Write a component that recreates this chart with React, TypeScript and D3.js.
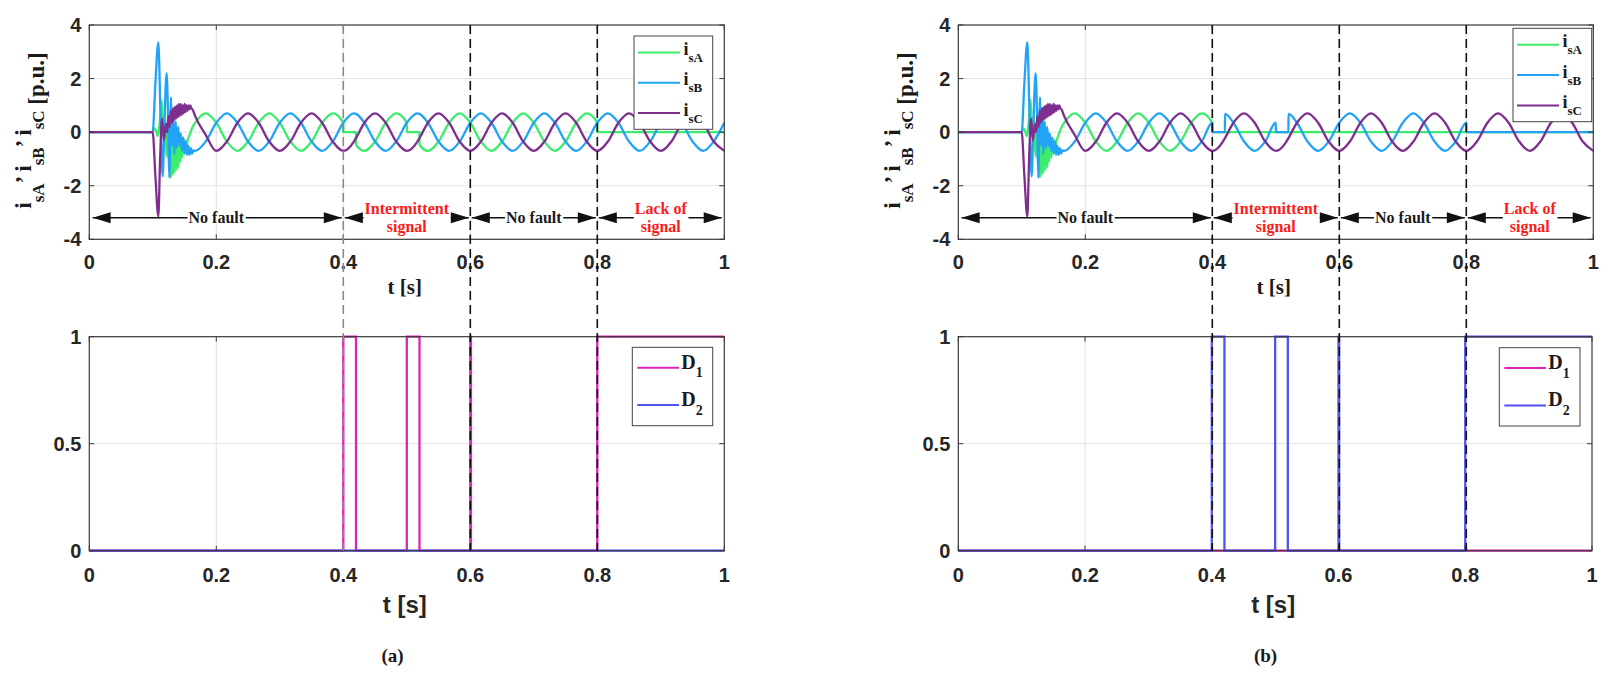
import React, { useEffect, useRef } from "react";
import * as d3 from "d3";

type Pt = [number, number];

// ---- values ----
const xTicks = [0, 0.2, 0.4, 0.6, 0.8, 1];
const yTicksCurrent = [-4, -2, 0, 2, 4];
const yTicksFlag = [0, 0.5, 1];
const stateBoundaries = [0.4, 0.6, 0.8];

// steady state samples (s) and phase currents (p.u.)
const tSteady = [
  0.1667, 0.1833, 0.2, 0.2167, 0.2333, 0.25, 0.2667, 0.2833, 0.3, 0.3167, 0.3333, 0.35, 0.3667, 0.3833, 0.4, 0.4167,
  0.42, 0.4333, 0.45, 0.4667, 0.4833, 0.5, 0.5167, 0.52, 0.5333, 0.55, 0.5667, 0.5833, 0.6, 0.6167, 0.6333, 0.65,
  0.6667, 0.6833, 0.7, 0.7167, 0.7333, 0.75, 0.7667, 0.7833, 0.8, 0.8167, 0.8333, 0.85, 0.8667, 0.8833, 0.9, 0.9167,
  0.9333, 0.95, 0.9667, 0.9833, 1.0,
];
const isASteady = [
  0.35, 0.7, 0.35, -0.35, -0.7, -0.35, 0.35, 0.7, 0.35, -0.35, -0.7, -0.35, 0.35, 0.7, 0.35, -0.35,
  -0.47, -0.7, -0.35, 0.35, 0.7, 0.35, -0.35, -0.47, -0.7, -0.35, 0.35, 0.7, 0.35, -0.35, -0.7, -0.35,
  0.35, 0.7, 0.35, -0.35, -0.7, -0.35, 0.35, 0.7, 0.35, -0.35, -0.7, -0.35, 0.35, 0.7, 0.35, -0.35,
  -0.7, -0.35, 0.35, 0.7, 0.35,
];
const isBSteady = [
  -0.7, -0.35, 0.35, 0.7, 0.35, -0.35, -0.7, -0.35, 0.35, 0.7, 0.35, -0.35, -0.7, -0.35, 0.35, 0.7,
  0.68, 0.35, -0.35, -0.7, -0.35, 0.35, 0.7, 0.68, 0.35, -0.35, -0.7, -0.35, 0.35, 0.7, 0.35, -0.35,
  -0.7, -0.35, 0.35, 0.7, 0.35, -0.35, -0.7, -0.35, 0.35, 0.7, 0.35, -0.35, -0.7, -0.35, 0.35, 0.7,
  0.35, -0.35, -0.7, -0.35, 0.35,
];
const isCSteady = [
  0.6, -0.1, -0.7, -0.35, 0.35, 0.7, 0.35, -0.35, -0.7, -0.35, 0.35, 0.7, 0.35, -0.35, -0.7, -0.35,
  -0.22, 0.35, 0.7, 0.35, -0.35, -0.7, -0.35, -0.22, 0.35, 0.7, 0.35, -0.35, -0.7, -0.35, 0.35, 0.7,
  0.35, -0.35, -0.7, -0.35, 0.35, 0.7, 0.35, -0.35, -0.7, -0.35, 0.35, 0.7, 0.35, -0.35, -0.7, -0.35,
  0.35, 0.7, 0.35, -0.35, -0.7,
];

// start-up transient [t, value]
const isATransient: Pt[] = [
  [0, 0], [0.0998, 0], [0.102, 0.15], [0.105, 0.05], [0.108, -0.15], [0.111, 0.4], [0.114, 1.2], [0.1165, -0.2],
  [0.119, 0.6], [0.1215, -0.9], [0.1235, 0.4], [0.1255, -1.3], [0.127, 0.3], [0.1285, -1.7], [0.13, 0.2],
  [0.1315, -1.6], [0.133, 0.1], [0.1345, -1.5], [0.136, 0.0], [0.1375, -1.4], [0.139, -0.1], [0.1405, -1.3],
  [0.142, -0.1], [0.1435, -1.1], [0.145, -0.2], [0.1465, -0.95], [0.148, -0.25], [0.1495, -0.8], [0.151, -0.3],
  [0.1525, -0.6], [0.155, -0.3], [0.158, -0.1], [0.161, 0.1], [0.164, 0.25],
];
const isBTransient: Pt[] = [
  [0, 0], [0.0998, 0], [0.104, 1.8], [0.1087, 3.35], [0.112, 0.8], [0.1155, -1.65], [0.1185, 0.5], [0.1218, 2.2],
  [0.1245, 0.0], [0.126, -1.7], [0.1287, 1.3], [0.1305, -0.5], [0.132, 0.7], [0.134, -0.8], [0.136, 0.4],
  [0.138, -0.6], [0.14, 0.2], [0.142, -0.5], [0.144, -0.05], [0.146, -0.7], [0.148, -0.2], [0.15, -0.8],
  [0.152, -0.35], [0.154, -0.85], [0.156, -0.5], [0.158, -0.85], [0.16, -0.6], [0.162, -0.8], [0.164, -0.68],
];
const isCTransient: Pt[] = [
  [0, 0], [0.0998, 0], [0.104, -1.6], [0.1087, -3.15], [0.1115, -1.0], [0.1145, 0.5], [0.1175, -0.3], [0.1205, 0.3],
  [0.1225, 0.0], [0.1245, 0.6], [0.1265, 0.2], [0.1285, 0.8], [0.1305, 0.35], [0.132, 0.9], [0.1335, 0.45],
  [0.135, 0.95], [0.1365, 0.5], [0.138, 1.0], [0.1395, 0.55], [0.141, 1.05], [0.1425, 0.6], [0.144, 1.05],
  [0.1455, 0.65], [0.147, 1.0], [0.1485, 0.7], [0.15, 1.05], [0.1515, 0.75], [0.153, 1.0], [0.1545, 0.8],
  [0.156, 1.0], [0.1575, 0.85], [0.159, 1.0], [0.1605, 0.9], [0.1625, 0.85],
];

// fault flags (step after)
const tFlag = [0, 0.4, 0.42, 0.5, 0.52, 0.6, 0.601, 0.8, 1];
const flagFaulty = [0, 1, 0, 1, 0, 1, 0, 1, 1];
const flagHealthy = [0, 0, 0, 0, 0, 0, 0, 0, 0];

// intervals where a phase current is lost
const lossA_a = [[0.4, 0.42], [0.5, 0.52], [0.8, 1]];
const lossB_b = [[0.4, 0.42], [0.5, 0.52], [0.8, 1]];
const lossA_b = [[0.4, 1]];

const stateLabels = [
  { from: 0, to: 0.4, text: ["No fault"], red: false },
  { from: 0.4, to: 0.6, text: ["Intermittent", "signal"], red: true },
  { from: 0.6, to: 0.8, text: ["No fault"], red: false },
  { from: 0.8, to: 1, text: ["Lack of", "signal"], red: true },
];

const colA = "#3cec6c";
const colB = "#22a3f5";
const colC = "#7e2f8e";
const colD1 = "#dc24b8";
const colD2 = "#5252ee";

const SANS = "'Liberation Sans', Arial, sans-serif";
const SERIF = "'Liberation Serif', 'Times New Roman', serif";
const AX = "#3a3a3a";

const panels = [
  {
    name: "(a)",
    top: { x: [89.3, 724.3], y: [239.3, 25] },
    bottom: { x: [89.3, 724.3], y: [550.7, 336.7] },
    lossA: lossA_a, lossB: [] as number[][],
    d1: flagFaulty, d2: flagHealthy,
    dash: ["#8a8a8a", "#111", "#111"],
    yLabelX: 44,
    legTop: [634, 36, 78.7, 93.3],
    legBottom: [632.3, 347.3, 80.4, 78.4],
    caption: [392.5, 655],
  },
  {
    name: "(b)",
    top: { x: [958.3, 1593.3], y: [239.3, 25] },
    bottom: { x: [958.3, 1592], y: [550.7, 336.7] },
    lossA: lossA_b, lossB: lossB_b,
    d1: flagHealthy, d2: flagFaulty,
    dash: ["#111", "#111", "#111"],
    yLabelX: 913,
    legTop: [1513, 28.3, 78.7, 93.4],
    legBottom: [1499.3, 347.7, 80.7, 78.3],
    caption: [1265.6, 655],
  },
];

function withLoss(series: Pt[], windows: number[][]): Pt[] {
  const out: Pt[] = [];
  const eps = 1e-9;
  for (const [t, v] of series) {
    const w = windows.find(([s, e]) => t >= s - eps && t <= e + eps);
    if (!w) {
      out.push([t, v]);
      continue;
    }
    const [s, e] = w;
    if (Math.abs(t - s) < eps) {
      out.push([t, v]);
      out.push([t + 1e-4, 0]);
    } else if (Math.abs(t - e) < eps && e < 1) {
      out.push([t - 1e-4, 0]);
      out.push([t, v]);
    } else out.push([t, 0]);
  }
  return out;
}

function frame(svg: any, x: any, y: any, yTicks: number[], fontSize: number, xLabelDy: number) {
  const [x0, x1] = x.range();
  const [y0, y1] = y.range();
  const g = svg.append("g");
  g.append("rect").attr("x", x0).attr("y", y1).attr("width", x1 - x0).attr("height", y0 - y1)
    .attr("fill", "none").attr("stroke", AX).attr("stroke-width", 1.2);
  xTicks.forEach((d) => {
    g.append("line").attr("x1", x(d)).attr("x2", x(d)).attr("y1", y0).attr("y2", y0 - 5).attr("stroke", AX);
    g.append("line").attr("x1", x(d)).attr("x2", x(d)).attr("y1", y1).attr("y2", y1 + 5).attr("stroke", AX);
    g.append("text").attr("x", x(d)).attr("y", y0 + xLabelDy).attr("text-anchor", "middle")
      .attr("dominant-baseline", "central").attr("font-family", SANS).attr("font-weight", "bold")
      .attr("font-size", fontSize).attr("fill", "#262626").text(String(d));
  });
  yTicks.forEach((d) => {
    g.append("line").attr("x1", x0).attr("x2", x0 + 5).attr("y1", y(d)).attr("y2", y(d)).attr("stroke", AX);
    g.append("line").attr("x1", x1).attr("x2", x1 - 5).attr("y1", y(d)).attr("y2", y(d)).attr("stroke", AX);
    g.append("text").attr("x", x0 - 8).attr("y", y(d)).attr("text-anchor", "end")
      .attr("dominant-baseline", "central").attr("font-family", SANS).attr("font-weight", "bold")
      .attr("font-size", fontSize).attr("fill", "#262626").text(String(d));
  });
}

function grid(svg: any, x: any, y: any, yTicks: number[]) {
  const [x0, x1] = x.range();
  const [y0, y1] = y.range();
  const g = svg.append("g").attr("stroke", "#e2e2e2").attr("stroke-width", 1);
  xTicks.slice(1, -1).forEach((d) => {
    g.append("line").attr("x1", x(d)).attr("x2", x(d)).attr("y1", y1).attr("y2", y0);
  });
  yTicks.slice(1, -1).forEach((d) => {
    g.append("line").attr("x1", x0).attr("x2", x1).attr("y1", y(d)).attr("y2", y(d));
  });
}

const App = () => {
  const svgRef = useRef<SVGSVGElement>(null);

  useEffect(() => {
    const svg = d3.select(svgRef.current);
    svg.selectAll("*").remove();
    svg.append("rect").attr("width", 1624).attr("height", 674).attr("fill", "#fff");

    const baseA: Pt[] = [...isATransient, ...tSteady.map((t, i) => [t, isASteady[i]] as Pt)];
    const baseB: Pt[] = [...isBTransient, ...tSteady.map((t, i) => [t, isBSteady[i]] as Pt)];
    const baseC: Pt[] = [...isCTransient, ...tSteady.map((t, i) => [t, isCSteady[i]] as Pt)];

    panels.forEach((p) => {
      const xT = d3.scaleLinear().domain([0, 1]).range(p.top.x);
      const yT = d3.scaleLinear().domain([-4, 4]).range(p.top.y);
      const xB = d3.scaleLinear().domain([0, 1]).range(p.bottom.x);
      const yB = d3.scaleLinear().domain([0, 1]).range(p.bottom.y);

      // ---- current plot ----
      grid(svg, xT, yT, yTicksCurrent);
      const line = d3.line<Pt>().x((d) => xT(d[0])).y((d) => yT(d[1])).curve(d3.curveMonotoneX);
      const curves = [
        { data: withLoss(baseA, p.lossA), color: colA },
        { data: withLoss(baseB, p.lossB), color: colB },
        { data: baseC, color: colC },
      ];
      curves.forEach((c) => {
        svg.append("path").attr("d", line(c.data)).attr("fill", "none").attr("stroke", c.color)
          .attr("stroke-width", 2.3).attr("stroke-linejoin", "round");
      });
      frame(svg, xT, yT, yTicksCurrent, 20, 23);

      // state annotations
      const ay = yT(-3.2);
      stateLabels.forEach((s) => {
        const xa = xT(s.from) + (s.from === 0 ? 3.3 : 1.5);
        const xb = xT(s.to) - (s.to === 1 ? 2.6 : 1.5);
        const g = svg.append("g");
        g.append("line").attr("x1", xa).attr("x2", xb).attr("y1", ay).attr("y2", ay)
          .attr("stroke", "#111").attr("stroke-width", 1.5);
        const bg = g.append("rect").attr("fill", "#fff");
        const cx = (xT(s.from) + xT(s.to)) / 2;
        const txt = g.append("text").attr("text-anchor", "middle").attr("font-family", SERIF)
          .attr("font-weight", "bold").attr("font-size", 16).attr("fill", s.red ? "#ff1a1a" : "#1a1a1a");
        const offs = s.text.length === 1 ? [0] : [-9.8, 8.6];
        s.text.forEach((t, i) => {
          txt.append("tspan").attr("x", cx).attr("y", ay + offs[i]).attr("dominant-baseline", "central").text(t);
        });
        const bb = (txt.node() as SVGTextElement).getBBox();
        bg.attr("x", bb.x - 1).attr("width", bb.width + 2).attr("y", ay - 3).attr("height", 6);
        const head = 18;
        const hw = 5.5;
        g.append("path").attr("d", `M${xa},${ay}L${xa + head},${ay - hw}L${xa + head},${ay + hw}Z`).attr("fill", "#111");
        g.append("path").attr("d", `M${xb},${ay}L${xb - head},${ay - hw}L${xb - head},${ay + hw}Z`).attr("fill", "#111");
      });

      // legend for currents
      const [lx, ly, lw, lh] = p.legTop;
      svg.append("rect").attr("x", lx).attr("y", ly).attr("width", lw).attr("height", lh)
        .attr("fill", "#fff").attr("stroke", "#444").attr("stroke-width", 1);
      [
        { c: colA, sub: "sA" },
        { c: colB, sub: "sB" },
        { c: colC, sub: "sC" },
      ].forEach((r, i) => {
        const ry = ly + 16.5 + i * 30.3;
        svg.append("line").attr("x1", lx + 4).attr("x2", lx + 46).attr("y1", ry).attr("y2", ry)
          .attr("stroke", r.c).attr("stroke-width", 2);
        const t = svg.append("text").attr("x", lx + 49.5).attr("y", ry + 2.5).attr("font-family", SERIF)
          .attr("font-weight", "bold").attr("font-size", 18).attr("fill", "#1a1a1a");
        t.append("tspan").text("i");
        t.append("tspan").attr("dy", 7).attr("font-size", 13).text(r.sub);
      });

      // y label
      const yl = svg.append("text").attr("transform", `translate(${p.yLabelX},130.5) rotate(-90)`)
        .attr("text-anchor", "middle").attr("font-family", SERIF).attr("font-weight", "bold")
        .attr("font-size", 23).attr("fill", "#1a1a1a");
      yl.append("tspan").attr("dy", -13).text("i");
      yl.append("tspan").attr("dy", 13).attr("font-size", 17).text("sA");
      yl.append("tspan").attr("dy", -13).text("’ i");
      yl.append("tspan").attr("dy", 13).attr("font-size", 17).text("sB");
      yl.append("tspan").attr("dy", -13).text("’ i");
      yl.append("tspan").attr("dy", 13).attr("font-size", 17).text("sC");
      yl.append("tspan").text(" [p.u.]");

      svg.append("text").attr("x", (p.top.x[0] + p.top.x[1]) / 2 - 2).attr("y", 287)
        .attr("text-anchor", "middle").attr("dominant-baseline", "central").attr("font-family", SERIF)
        .attr("font-weight", "bold").attr("font-size", 21).attr("fill", "#1a1a1a").text("t [s]");

      // ---- fault flag plot ----
      grid(svg, xB, yB, yTicksFlag);
      const step = d3.line<Pt>().x((d) => xB(d[0])).y((d) => yB(d[1])).curve(d3.curveStepAfter);
      [
        { v: p.d1, c: colD1 },
        { v: p.d2, c: colD2 },
      ].forEach((s) => {
        svg.append("path").attr("d", step(tFlag.map((t, i) => [t, s.v[i]] as Pt)))
          .attr("fill", "none").attr("stroke", s.c).attr("stroke-width", 2.3);
      });
      frame(svg, xB, yB, yTicksFlag, 20, 24.5);

      const [bx, by, bw, bh] = p.legBottom;
      svg.append("rect").attr("x", bx).attr("y", by).attr("width", bw).attr("height", bh)
        .attr("fill", "#fff").attr("stroke", "#444").attr("stroke-width", 1);
      [
        { c: colD1, sub: "1" },
        { c: colD2, sub: "2" },
      ].forEach((r, i) => {
        const ry = by + 20.4 + i * 37.3;
        svg.append("line").attr("x1", bx + 5).attr("x2", bx + 46.7).attr("y1", ry).attr("y2", ry)
          .attr("stroke", r.c).attr("stroke-width", 2);
        const t = svg.append("text").attr("x", bx + 49).attr("y", ry + 1).attr("font-family", SERIF)
          .attr("font-weight", "bold").attr("font-size", 20).attr("fill", "#1a1a1a");
        t.append("tspan").text("D");
        t.append("tspan").attr("dy", 8.5).attr("font-size", 14).text(r.sub);
      });

      svg.append("text").attr("x", (p.bottom.x[0] + p.bottom.x[1]) / 2 - 2).attr("y", 604)
        .attr("text-anchor", "middle").attr("dominant-baseline", "central").attr("font-family", SANS)
        .attr("font-weight", "bold").attr("font-size", 24).attr("fill", "#262626").text("t [s]");

      svg.append("text").attr("x", p.caption[0]).attr("y", p.caption[1]).attr("text-anchor", "middle")
        .attr("dominant-baseline", "central").attr("font-family", SERIF).attr("font-weight", "bold")
        .attr("font-size", 19).attr("fill", "#1a1a1a").text(p.name);

      // state boundaries across both plots
      stateBoundaries.forEach((b, i) => {
        svg.append("line").attr("x1", xT(b)).attr("x2", xT(b)).attr("y1", p.top.y[1]).attr("y2", p.bottom.y[0])
          .attr("stroke", p.dash[i]).attr("stroke-width", 1.6).attr("stroke-dasharray", "9,5");
      });
    });
  }, []);

  return (
    <div>
      <style>{"body{margin:0}"}</style>
      <svg ref={svgRef} width={1624} height={674} style={{ display: "block" }}></svg>
    </div>
  );
};

export default App;
